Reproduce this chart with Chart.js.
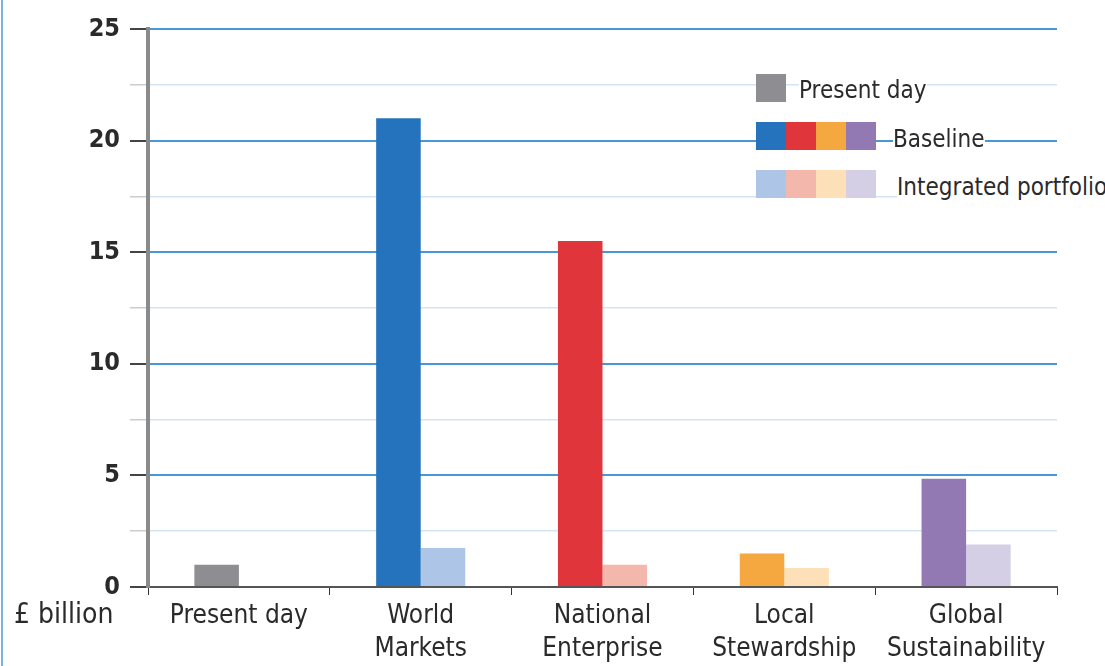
<!DOCTYPE html>
<html>
<head>
<meta charset="utf-8">
<script src="https://cdn.jsdelivr.net/npm/chart.js@4/dist/chart.umd.min.js"></script>
<style>
	html, body { margin: 0; padding: 0; background: #fff; }
	#wrap { position: relative; width: 1105px; height: 666px; }
	#borda { position: absolute; left: 1px; top: 0; width: 2px; height: 666px; background: #7fb1df; }
	.leg { position: absolute; font-family: "Liberation Sans Narrow", "DejaVu Sans Condensed", sans-serif; font-size: 24px; color: #2a2a2a; background: #fff; line-height: 28px; white-space: nowrap; }
	.caixas { position: absolute; display: flex; }
	.caixas span { display: block; width: 30px; height: 28px; }
</style>
</head>
<body>
<div id="wrap">
	<canvas id="graficoCenarios" width="1105" height="666"></canvas>
	<div id="borda"></div>
	<div class="caixas" style="left:756px; top:74px;"><span style="background:#8e8d92"></span></div>
	<div class="leg" style="left:799px; top:76px;">Present day</div>
	<div class="caixas" id="legBase" style="left:756px; top:122px;"></div>
	<div class="leg" style="left:893px; top:125px;">Baseline</div>
	<div class="caixas" id="legInteg" style="left:756px; top:170px;"></div>
	<div class="leg" style="left:897px; top:173px;">Integrated portfolio</div>
</div>
<script>
var cenarios = [['Present day'], ['World', 'Markets'], ['National', 'Enterprise'], ['Local', 'Stewardship'], ['Global', 'Sustainability']];
var valoresBaseline = [1.0, 21.0, 15.5, 1.5, 4.85];
var valoresIntegrado = [null, 1.75, 1.0, 0.85, 1.9];
var coresBaseline = ['#8e8d92', '#2473bc', '#e0363b', '#f4a83f', '#9279b3'];
var coresIntegrado = ['#ffffff', '#adc5e7', '#f3b8ab', '#fde0b7', '#d5cfe6'];
var yTicks = [0, 5, 10, 15, 20, 25];

var fonte = '"Liberation Sans Narrow", "DejaVu Sans Condensed", sans-serif';

// legenda: quadrados coloridos
function montaCaixas(id, cores) {
	var el = document.getElementById(id);
	cores.forEach(function(c) {
		var s = document.createElement('span');
		s.style.background = c;
		el.appendChild(s);
	});
}
montaCaixas('legBase', coresBaseline.slice(1));
montaCaixas('legInteg', coresIntegrado.slice(1));

// texto "£ billion" ao lado dos rótulos
var rotuloUnidade = {
	id: 'rotuloUnidade',
	afterDraw: function(chart) {
		var ctx = chart.ctx;
		ctx.save();
		ctx.font = '28px ' + fonte;
		ctx.fillStyle = '#2a2a2a';
		ctx.textAlign = 'left';
		ctx.textBaseline = 'top';
		ctx.fillText('£ billion', 14, 602);
		ctx.restore();
	}
};

function ehMaior(v) { return yTicks.indexOf(v) >= 0; }

var grafico = new Chart(document.getElementById('graficoCenarios').getContext('2d'), {
	type: 'bar',
	data: {
		labels: cenarios,
		datasets: [
			{ label: 'Baseline', data: valoresBaseline, backgroundColor: coresBaseline },
			{ label: 'Integrated portfolio', data: valoresIntegrado, backgroundColor: coresIntegrado }
		]
	},
	options: {
		responsive: false,
		animation: false,
		layout: { padding: { top: 29, right: 48, left: 0, bottom: 0 } },
		datasets: { bar: { barPercentage: 1.0, categoryPercentage: 0.49 } },
		plugins: { legend: { display: false }, tooltip: { enabled: false } },
		scales: {
			x: {
				afterFit: function(s) { s.height = 79; },
				border: { color: '#555', width: 2 },
				grid: { drawOnChartArea: false, drawTicks: true, tickLength: 8, tickColor: '#333', offset: true },
				ticks: { color: '#2a2a2a', font: { family: fonte, size: 26, lineHeight: 1.3 }, padding: 4, maxRotation: 0 }
			},
			y: {
				min: 0,
				max: 25,
				afterFit: function(s) { s.width = 148; },
				border: { color: '#8a8a8a', width: 4 },
				grid: {
					color: function(c) { return ehMaior(c.tick.value) ? '#4a97d5' : '#d3e4f4'; },
					lineWidth: function(c) { return ehMaior(c.tick.value) ? 2 : 1.5; },
					tickColor: function(c) { return ehMaior(c.tick.value) ? '#444' : '#ccc'; },
					tickLength: 18
				},
				ticks: {
					stepSize: 2.5,
					color: '#2a2a2a',
					padding: 10,
					font: { family: fonte, size: 25, weight: 'bold' },
					callback: function(v) { return ehMaior(v) ? v : ''; }
				}
			}
		}
	},
	plugins: [rotuloUnidade]
});
</script>
</body>
</html>
